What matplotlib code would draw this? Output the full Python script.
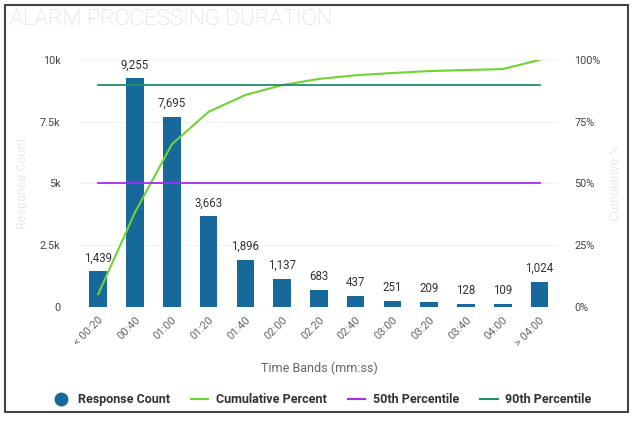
import matplotlib
matplotlib.use("Agg")
import matplotlib.pyplot as plt
from matplotlib.lines import Line2D
from matplotlib.patches import Rectangle

plt.rcParams['font.family'] = ['Roboto', 'DejaVu Sans']

# ----------------------------------------------------------------------------
# Data
# ----------------------------------------------------------------------------
bands = ["< 00:20", "00:40", "01:00", "01:20", "01:40", "02:00", "02:20",
         "02:40", "03:00", "03:20", "03:40", "04:00", "> 04:00"]
counts = [1439, 9255, 7695, 3663, 1896, 1137, 683, 437, 251, 209, 128, 109, 1024]
cumulative_pct = [5.2, 38.3, 65.8, 79.0, 85.8, 89.8, 92.3, 93.8, 94.7, 95.5,
                  95.9, 96.3, 100.0]
p50 = 50
p90 = 90

BAR = "#17699b"
CUM = "#6fd42f"
P50 = "#a72cf0"
P90 = "#1f8f70"

fig = plt.figure(figsize=(6.34, 4.25), dpi=100)
ax = fig.add_axes([0.126, 0.278, 0.754, 0.581])
ax2 = ax.twinx()

x = list(range(len(bands)))
ax.bar(x, counts, width=0.48, color=BAR, zorder=2)
for xi, c in zip(x, counts):
    ax.annotate(f"{c:,}", (xi, c), xytext=(0, 5), textcoords="offset points",
                ha="center", va="bottom", fontsize=8.3, color="#333333")

ax.set_xlim(-0.5, len(bands) - 0.5)
ax.set_ylim(0, 10000)
ax.set_yticks([0, 2500, 5000, 7500, 10000])
ax.set_yticklabels(["0", "2.5k", "5k", "7.5k", "10k"])
ax.grid(axis="y", color="#f3f3f3", linewidth=0.8, zorder=0)
ax.set_xticks(x)
ax.set_xticklabels(bands, rotation=45, ha="right", rotation_mode="anchor")
ax.tick_params(axis="x", length=0, labelsize=8, labelcolor="#666666", pad=6)
ax.tick_params(axis="y", length=0, labelsize=7.8, labelcolor="#444444", pad=14)
ax.set_xlabel("Time Bands (mm:ss)", fontsize=9, color="#666666", labelpad=10)
ax.set_ylabel("Response Count", fontsize=9, color="#e8e8e8", labelpad=8)

ax2.plot(x, cumulative_pct, color=CUM, linewidth=1.5, zorder=3)
ax2.plot([x[0], x[-1]], [p50, p50], color=P50, linewidth=1.3, zorder=3)
ax2.plot([x[0], x[-1]], [p90, p90], color=P90, linewidth=1.3, zorder=3)
ax2.set_ylim(0, 100)
ax2.set_yticks([0, 25, 50, 75, 100])
ax2.set_yticklabels(["0%", "25%", "50%", "75%", "100%"])
ax2.tick_params(axis="y", length=0, labelsize=7.8, labelcolor="#444444", pad=12)
ax2.set_ylabel("Cumulative %", fontsize=9, color="#e8e8e8", labelpad=6)

for a in (ax, ax2):
    for s in a.spines.values():
        s.set_visible(False)

# Title
fig.text(0.016, 0.955, "ALARM PROCESSING DURATION", fontsize=16, color="#d9d9d9",
         ha="left", va="center", fontweight="light")

# Legend
handles = [
    Line2D([], [], marker="o", linestyle="none", markersize=9, color=BAR),
    Line2D([], [], color=CUM, linewidth=1.5),
    Line2D([], [], color=P50, linewidth=1.5),
    Line2D([], [], color=P90, linewidth=1.5),
]
labels = ["Response Count", "Cumulative Percent", "50th Percentile", "90th Percentile"]
fig.legend(handles, labels, loc="center", bbox_to_anchor=(0.508, 0.059), ncol=4,
           frameon=False, handlelength=1.4, columnspacing=1.7, handletextpad=0.6,
           prop={"size": 9, "weight": "bold"}, labelcolor="#333333")

# Outer border
fig.patches.append(Rectangle((0.008, 0.03), 0.982, 0.958, transform=fig.transFigure,
                             fill=False, edgecolor="#444444", linewidth=1.5))

fig.savefig("out.png", dpi=100)
